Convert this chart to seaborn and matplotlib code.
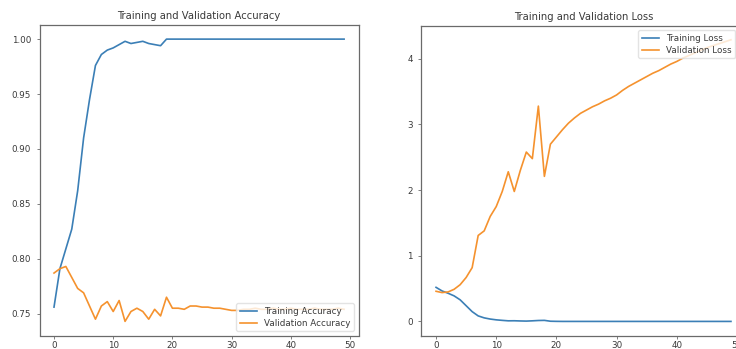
import numpy as np
import pandas as pd
import matplotlib
matplotlib.use("Agg")
import matplotlib.pyplot as plt
import seaborn as sns

epochs = list(range(50))

train_acc = [0.756, 0.791, 0.809, 0.827, 0.862, 0.910, 0.945, 0.976, 0.986, 0.990,
             0.992, 0.995, 0.998, 0.996, 0.997, 0.998, 0.996, 0.995, 0.994, 1.000,
             1.000, 1.000, 1.000, 1.000, 1.000, 1.000, 1.000, 1.000, 1.000, 1.000,
             1.000, 1.000, 1.000, 1.000, 1.000, 1.000, 1.000, 1.000, 1.000, 1.000,
             1.000, 1.000, 1.000, 1.000, 1.000, 1.000, 1.000, 1.000, 1.000, 1.000]

val_acc = [0.787, 0.791, 0.793, 0.783, 0.773, 0.769, 0.757, 0.745, 0.757, 0.761,
           0.752, 0.762, 0.743, 0.752, 0.755, 0.752, 0.745, 0.754, 0.748, 0.765,
           0.755, 0.755, 0.754, 0.757, 0.757, 0.756, 0.756, 0.755, 0.755, 0.754,
           0.753, 0.753, 0.754, 0.754, 0.755, 0.754, 0.754, 0.755, 0.754, 0.754,
           0.755, 0.754, 0.754, 0.754, 0.755, 0.754, 0.754, 0.754, 0.755, 0.754]

train_loss = [0.52, 0.465, 0.43, 0.39, 0.33, 0.24, 0.15, 0.085, 0.055, 0.037,
              0.025, 0.017, 0.010, 0.011, 0.008, 0.006, 0.010, 0.015, 0.017, 0.004,
              0.002, 0.001, 0.001, 0.001, 0.001, 0.001, 0.001, 0.001, 0.001, 0.001,
              0.001, 0.001, 0.001, 0.001, 0.001, 0.001, 0.001, 0.001, 0.001, 0.001,
              0.001, 0.001, 0.001, 0.001, 0.001, 0.001, 0.001, 0.001, 0.001, 0.001]

val_loss = [0.46, 0.44, 0.45, 0.49, 0.56, 0.67, 0.82, 1.31, 1.38, 1.60,
            1.75, 1.98, 2.28, 1.98, 2.30, 2.58, 2.48, 3.28, 2.21, 2.70,
            2.81, 2.92, 3.02, 3.10, 3.17, 3.22, 3.27, 3.31, 3.36, 3.40,
            3.45, 3.52, 3.58, 3.63, 3.68, 3.73, 3.78, 3.82, 3.87, 3.92,
            3.96, 4.01, 4.05, 4.09, 4.13, 4.17, 4.20, 4.23, 4.26, 4.29]

acc_df = pd.DataFrame({
    "epoch": epochs * 2,
    "value": train_acc + val_acc,
    "series": ["Training Accuracy"] * 50 + ["Validation Accuracy"] * 50,
})
loss_df = pd.DataFrame({
    "epoch": epochs * 2,
    "value": train_loss + val_loss,
    "series": ["Training Loss"] * 50 + ["Validation Loss"] * 50,
})

W, H = 736, 349
fig = plt.figure(figsize=(W / 100, H / 100), dpi=100)
fig.patch.set_facecolor("white")

def px_axes(left, top, right, bottom):
    return fig.add_axes([left / W, 1 - bottom / H, (right - left) / W, (bottom - top) / H])

ax1 = px_axes(39.5, 25, 358.6, 335.5)
ax2 = px_axes(421.3, 25.7, 745.7, 335.5)

palette = ["#3b7fb6", "#f5922e"]
text_color = "#3a3a3a"
spine_color = "#6a6a6a"

for ax, df, title, loc, anchor in [
    (ax1, acc_df, "Training and Validation Accuracy", "lower right", (1.0, 0.0)),
    (ax2, loss_df, "Training and Validation Loss", "upper right", (0.982, 1.0)),
]:
    sns.lineplot(data=df, x="epoch", y="value", hue="series", palette=palette,
                 linewidth=1.2, ax=ax)
    ax.set_xlabel("")
    ax.set_ylabel("")
    ax.set_title(title, fontsize=7.2, color=text_color, pad=4)
    ax.set_xticks([0, 10, 20, 30, 40, 50])
    ax.tick_params(labelsize=6.3, colors=text_color, length=2.5, width=0.6,
                   color=spine_color)
    ax.tick_params(axis="x", pad=1.2)
    for s in ax.spines.values():
        s.set_color(spine_color)
        s.set_linewidth(0.9)
    leg = ax.legend(loc=loc, bbox_to_anchor=anchor, fontsize=6.3, frameon=True,
                    borderpad=0.4, handlelength=2.0, labelspacing=0.35)
    for t in leg.get_texts():
        t.set_color(text_color)
    leg.get_frame().set_edgecolor("#dddddd")

ax1.set_yticks([0.75, 0.80, 0.85, 0.90, 0.95, 1.00])
ax1.yaxis.set_major_formatter(matplotlib.ticker.FormatStrFormatter("%.2f"))
ax2.set_yticks([0, 1, 2, 3, 4])

fig.savefig("out.png", dpi=100, facecolor="white")
